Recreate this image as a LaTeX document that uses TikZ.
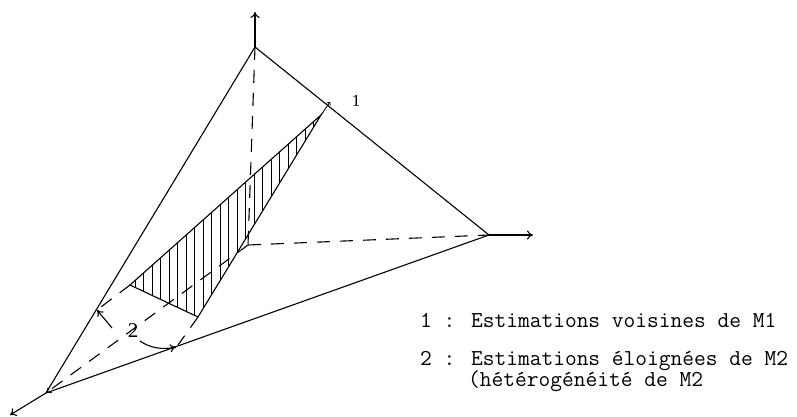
\documentclass[tikz,border=0pt]{standalone}
\usepackage{fontspec}
\setmainfont{Liberation Serif}
\usetikzlibrary{arrows.meta}
\begin{document}
\begin{tikzpicture}[x=1pt,y=-1pt,
  edge/.style={line width=1.1pt},
  hid/.style={line width=1.1pt,dash pattern=on 13pt off 10pt},
  axarrow/.style={line width=1.1pt,-{To[length=6pt,width=9pt]}},
  legend/.style={font=\ttfamily\fontsize{22.8}{24}\selectfont,anchor=base west,inner sep=0pt},
  hatch/.style={line width=0.9pt}]
\useasboundingbox (0,0) rectangle (797,417);
% vertices
\coordinate (T) at (255,47);
\coordinate (R) at (489,235);
\coordinate (L) at (46,393);
\coordinate (O) at (248,245);
\coordinate (Tz) at (255,12);
\coordinate (Rx) at (533,235);
\coordinate (Ly) at (10,415);
% hatched triangle
\coordinate (A) at (130,285);
\coordinate (B) at (198,317);
\coordinate (C) at (321,115);
\coordinate (Al) at (97,310);
\coordinate (Bb) at (178,345);
\coordinate (M1) at (330,102);
% hatching
\begin{scope}
  \clip (A) -- (B) -- (C) -- cycle;
  \foreach \xx in {135,143.5,...,325} \draw[hatch] (\xx,100) -- (\xx,330);
\end{scope}
\draw[edge] (A) -- (B) -- (C) -- cycle;
% hidden axes
\draw[hid] (T) -- (O);
\draw[hid] (O) -- (R);
\draw[hid,-{To[length=5pt,width=7pt]}] (O) -- (L);
\draw[hid] (A) -- (Al);
\draw[hid] (B) -- (Bb);
% tetrahedron edges
\draw[edge] (T) -- (L) -- (R) -- cycle;
% axis arrows
\draw[axarrow] (T) -- (Tz);
\draw[axarrow] (R) -- (Rx);
\draw[axarrow] (L) -- (Ly);
% marker 1
\draw[line width=0.8pt,-{To[length=3pt,width=5pt]}] (C) -- (M1);
\node[font=\fontsize{17}{17}\selectfont,inner sep=0pt] (n1) at (356,101) {1};
% label 2 and arrows
\node[font=\fontsize{21}{21}\selectfont,inner sep=0pt] (n2) at (133,331) {2};
\coordinate (s1) at (112,328);
\coordinate (s2) at (140,341);
\draw[line width=1.1pt,-{To[length=6pt,width=8pt]}] (s1) -- (Al);
\draw[line width=1.1pt,-{To[length=6pt,width=8pt]}] (s2) .. controls (150,348) and (162,350) .. (176,347);
% legend
\node[legend] (l1) at (420,327) {1 : Estimations voisines de M1};
\node[legend] (l2) at (420,365) {2 : Estimations éloignées de M2};
\node[legend] (l3) at (468,386) {(hétérogénéité de M2};
\end{tikzpicture}
\end{document}
